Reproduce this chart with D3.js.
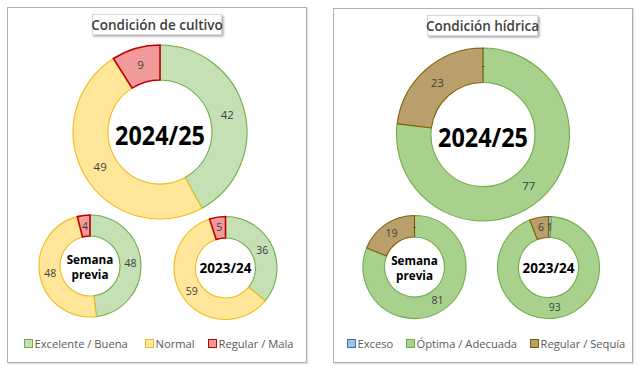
<!DOCTYPE html>
<html>
<head>
<meta charset="utf-8">
<script src="https://d3js.org/d3.v7.min.js"></script>
<style>
body { margin: 0; background: #fff; }
svg text { font-family: "Open Sans", "Noto Sans", sans-serif; }
</style>
</head>
<body>
<script>
// categorias y valores
var cultivoCats = ["Excelente / Buena", "Normal", "Regular / Mala"];
var hidricaCats = ["Exceso", "Óptima / Adecuada", "Regular / Sequía"];

var cultivoActual = [42, 49, 9];
var cultivoPrevia = [48, 48, 4];
var cultivoAnterior = [36, 59, 5];

var hidricaActual = [0, 77, 23];
var hidricaPrevia = [0, 81, 19];
var hidricaAnterior = [1, 93, 6];

var cultivoFill = ["#c5e0b4", "#ffe699", "#f19a9a"];
var cultivoLine = ["#70ad47", "#f2bb1b", "#c00000"];
var hidricaFill = ["#9dc3e6", "#a9d18e", "#b99f6b"];
var hidricaLine = ["#2e75b6", "#70ad47", "#7f6000"];

var w = 640, h = 372;
var svg = d3.select("body").append("svg").attr("width", w).attr("height", h);

var defs = svg.append("defs");
var sh = defs.append("filter").attr("id", "sh").attr("x", "-10%").attr("y", "-20%").attr("width", "130%").attr("height", "160%");
sh.append("feDropShadow").attr("dx", 1.5).attr("dy", 1.5).attr("stdDeviation", 1.2).attr("flood-color", "#000").attr("flood-opacity", 0.35);

// paneles
function panel(x, y, pw, ph, title, bx, bw) {
  svg.append("rect").attr("x", x + 1).attr("y", y + 1).attr("width", pw).attr("height", ph)
    .attr("fill", "none").attr("stroke", "#e0e0e0").attr("stroke-width", 1.5);
  svg.append("rect").attr("x", x).attr("y", y).attr("width", pw).attr("height", ph)
    .attr("fill", "#fff").attr("stroke", "#b0b0b0").attr("stroke-width", 1);
  svg.append("rect").attr("x", bx).attr("y", y + 7).attr("width", bw).attr("height", 20)
    .attr("fill", "#fff").attr("stroke", "#d9d9d9").attr("filter", "url(#sh)");
  svg.append("text").attr("x", bx + bw / 2).attr("y", y + 22).attr("text-anchor", "middle")
    .attr("font-size", 13.5).attr("fill", "#404040").attr("font-weight", 600).text(title);
}
panel(7.5, 7.5, 299, 355, "Condición de cultivo", 92.5, 129);
panel(333.5, 8.5, 299, 354, "Condición hídrica", 427.5, 110);

var pie = d3.pie().sort(null).value(function(d) { return d; });

function donut(values, fills, lines, cx, cy, r0, r1, center, csize, lsize, cdy) {
  var g = svg.append("g").attr("transform", "translate(" + cx + "," + cy + ")");
  var arc = d3.arc().innerRadius(r0).outerRadius(r1);
  var arcs = pie(values);
  // primero los sectores de borde fino, luego el de borde oscuro encima
  var dark = function(i) { return (lines[i] == "#c00000" || lines[i] == "#7f6000") ? 1 : 0; };
  var order = arcs.map(function(d, i) { return i; }).sort(function(a, b) { return dark(a) - dark(b); });
  order.forEach(function(i) {
    g.append("path").attr("d", arc(arcs[i])).attr("fill", fills[i]).attr("stroke", lines[i])
      .attr("stroke-width", lines[i] == "#c00000" ? 1.6 : 1.1);
  });
  arcs.forEach(function(d, i) {
    var c = arc.centroid(d);
    g.append("text").attr("x", c[0]).attr("y", c[1]).attr("dy", "0.35em").attr("text-anchor", "middle")
      .attr("font-size", lsize).attr("fill", "#404040")
      .text(d.data == 0 ? "-" : d.data);
  });
  // texto central (una o dos lineas en un solo <text>)
  var rows = center.split("\n");
  var lh = csize * 1.16;
  var cg = g.append("g").attr("transform", "translate(0," + cdy + ") scale(0.9,1)");
  var t = cg.append("text").attr("text-anchor", "middle").attr("font-family", "'DejaVu Sans', sans-serif")
    .attr("font-weight", "bold").attr("font-size", csize).attr("fill", "#000");
  rows.forEach(function(s, k) {
    t.append("tspan").attr("x", 0).attr("y", (k - (rows.length - 1) / 2) * lh).attr("dy", "0.36em").text(s);
  });
}

donut(cultivoActual, cultivoFill, cultivoLine, 160, 132, 52, 87, "2024/25", 26, 11.5, 4);
donut(cultivoPrevia, cultivoFill, cultivoLine, 90, 266, 30, 51, "Semana\nprevia", 13, 10.5, 1);
donut(cultivoAnterior, cultivoFill, cultivoLine, 225.5, 268, 30, 51.5, "2023/24", 15, 10.5, 0);

donut(hidricaActual, hidricaFill, hidricaLine, 483, 134.5, 52, 86.5, "2024/25", 26, 11.5, 3);
donut(hidricaPrevia, hidricaFill, hidricaLine, 414.5, 267, 30, 51.5, "Semana\nprevia", 13, 10.5, 1);
donut(hidricaAnterior, hidricaFill, hidricaLine, 548.5, 267.5, 30, 51, "2023/24", 15, 10.5, 0);

// leyendas
function legend(cats, fills, lines, xs, y) {
  cats.forEach(function(c, i) {
    svg.append("rect").attr("x", xs[i] + 0.5).attr("y", y - 4.5).attr("width", 8).attr("height", 8)
      .attr("fill", fills[i]).attr("stroke", lines[i]).attr("stroke-width", 1);
    svg.append("text").attr("x", xs[i] + 10.5).attr("y", y).attr("dy", "0.36em")
      .attr("font-size", 11.2).attr("fill", "#595959").text(c);
  });
}
legend(cultivoCats, cultivoFill, cultivoLine, [24, 145, 208], 344);
legend(hidricaCats, hidricaFill, hidricaLine, [347, 406, 530], 344);
</script>
</body>
</html>
